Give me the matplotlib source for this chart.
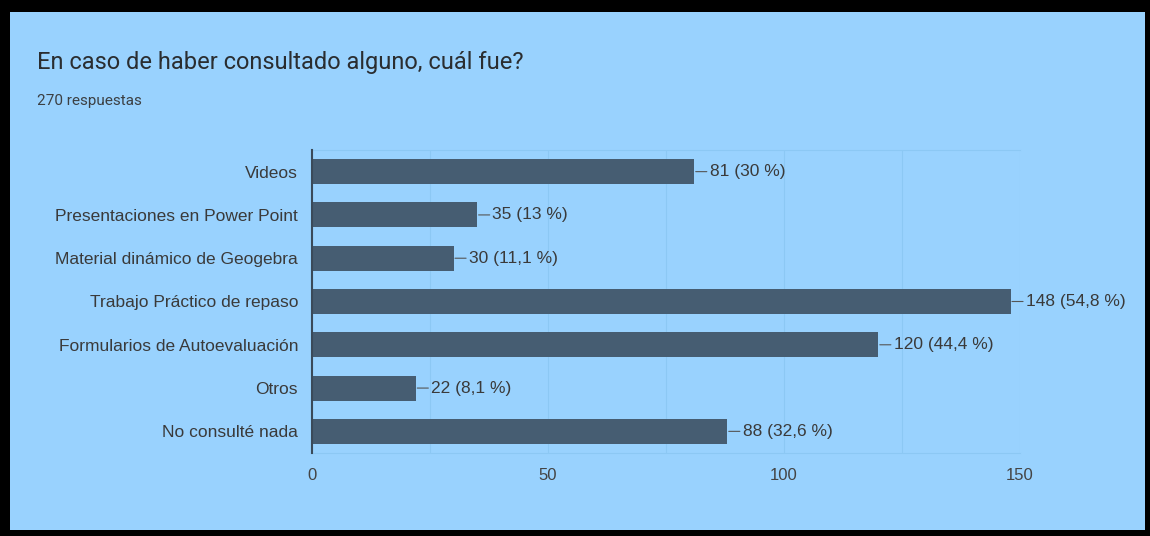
import matplotlib
matplotlib.use("Agg")
import matplotlib.pyplot as plt
from matplotlib.patches import Rectangle

categories = ["Videos", "Presentaciones en Power Point", "Material dinámico de Geogebra",
              "Trabajo Práctico de repaso", "Formularios de Autoevaluación", "Otros",
              "No consulté nada"]
values = [81, 35, 30, 148, 120, 22, 88]
percents = ["30 %", "13 %", "11,1 %", "54,8 %", "44,4 %", "8,1 %", "32,6 %"]
xticks = [0, 50, 100, 150]
title = "En caso de haber consultado alguno, cuál fue?"
subtitle = "270 respuestas"

BG = "#99D2FE"
BAR = "#465D72"
GRID = "#8CC8F4"

W, H = 1150, 536
fig = plt.figure(figsize=(W / 100, H / 100), dpi=100)
fig.patch.set_facecolor("black")
fig.patches.append(Rectangle((10 / W, 1 - 530 / H), (1145 - 10) / W, (530 - 12) / H,
                             transform=fig.transFigure, facecolor=BG, edgecolor="none", zorder=-10))

fig.text(37 / W, 1 - 62 / H, title, fontsize=17, color="#2a2d30", family="Roboto",
         va="center", ha="left")
fig.text(37 / W, 1 - 101 / H, subtitle, fontsize=11, color="#3c4043", family="Roboto",
         va="center", ha="left")

ax = fig.add_axes([312 / W, 1 - 453 / H, (1020 - 312) / W, (453 - 150) / H])
ax.set_zorder(5)
ax.set_facecolor("none")
y = list(range(len(categories)))
ax.barh(y, values, height=0.58, color=BAR, zorder=3)
ax.set_ylim(len(categories) - 0.5, -0.5)
ax.set_xlim(0, 150)
ax.set_yticks(y)
ax.set_yticklabels(categories, fontsize=12.5, color="#3a3a3a", family="Liberation Sans")
ax.set_xticks(xticks)
ax.set_xticklabels([str(t) for t in xticks], fontsize=12, color="#444444", family="Liberation Sans")
ax.set_xticks([25, 75, 125], minor=True)
ax.tick_params(axis="both", which="both", length=0)
ax.tick_params(axis="y", pad=10)
ax.tick_params(axis="x", pad=11)
ax.grid(axis="x", which="both", color=GRID, linewidth=0.8, zorder=0)
for s in ["top", "right", "bottom"]:
    ax.spines[s].set_color(GRID)
    ax.spines[s].set_linewidth(0.8)
ax.spines["right"].set_visible(False)
ax.spines["left"].set_color("#3a4a5a")
ax.spines["left"].set_linewidth(1.5)
ax.spines["left"].set_zorder(4)

for yi, v, p in zip(y, values, percents):
    ax.annotate(f"{v} ({p})", xy=(v, yi), xytext=(11, 0), textcoords="offset points",
                va="center", ha="left", fontsize=12.5, color="#3a3a3a", family="Liberation Sans",
                arrowprops=dict(arrowstyle="-", color="#555555", lw=0.8, shrinkA=0, shrinkB=1))

fig.savefig("out.png", dpi=100, facecolor=fig.get_facecolor())
